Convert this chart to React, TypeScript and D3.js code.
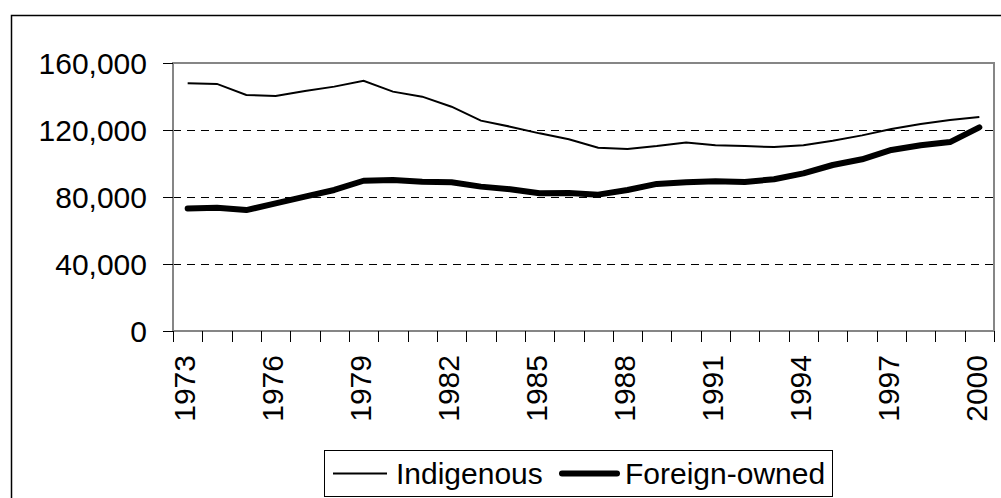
import React, { useRef, useEffect } from 'react';
import * as d3 from 'd3';

const years = d3.range(1973, 2001).map(String);

const indigenous = [
  147900, 147500, 140900, 140300, 143300, 145900, 149400, 142900, 139900, 133900,
  125600, 122000, 118000, 114500, 109400, 108700, 110400, 112600, 110900, 110400,
  109800, 110900, 113600, 116800, 120600, 123600, 126000, 127800,
];

const foreignOwned = [
  73200, 73600, 72200, 76200, 80200, 84200, 89700, 90100, 89100, 88800,
  86200, 84600, 82200, 82400, 81400, 84200, 87800, 88800, 89400, 89000,
  90600, 94100, 99100, 102500, 108100, 110900, 112800, 121600,
];

const yTicks = [0, 40000, 80000, 120000, 160000];
const xLabels = ['1973', '1976', '1979', '1982', '1985', '1988', '1991', '1994', '1997', '2000'];

const FONT = '"Liberation Sans", Arial, sans-serif';

const App = () => {
  const svgRef = useRef<SVGSVGElement>(null);

  useEffect(() => {
    const width = 1001;
    const height = 498;
    const plot = { left: 173, right: 994, top: 63, bottom: 331 };

    const svg = d3.select(svgRef.current)
      .attr('width', width)
      .attr('height', height);
    svg.selectAll('*').remove();

    svg.append('rect')
      .attr('width', width)
      .attr('height', height)
      .attr('fill', '#fff');

    // outer chart frame (runs off the right and bottom edges)
    svg.append('rect')
      .attr('x', 11.5)
      .attr('y', 15.5)
      .attr('width', 1100)
      .attr('height', 600)
      .attr('fill', 'none')
      .attr('stroke', '#000')
      .attr('stroke-width', 1.5);

    const x = d3.scaleBand()
      .domain(years)
      .range([plot.left, plot.right])
      .padding(0);

    const y = d3.scaleLinear()
      .domain([0, 160000])
      .range([plot.bottom, plot.top]);

    const cx = (d: string) => (x(d) as number) + x.bandwidth() / 2;

    // dashed gridlines
    svg.append('g')
      .selectAll('line')
      .data(yTicks.filter(t => t > 0 && t < 160000))
      .enter()
      .append('line')
      .attr('x1', plot.left)
      .attr('x2', plot.right)
      .attr('y1', d => y(d) + 0.5)
      .attr('y2', d => y(d) + 0.5)
      .attr('stroke', '#000')
      .attr('stroke-width', 1)
      .attr('stroke-dasharray', '8,6');

    // plot border
    svg.append('rect')
      .attr('x', plot.left)
      .attr('y', plot.top)
      .attr('width', plot.right - plot.left)
      .attr('height', plot.bottom - plot.top)
      .attr('fill', 'none')
      .attr('stroke', '#868686')
      .attr('stroke-width', 2);

    // y axis ticks + labels
    const yg = svg.append('g');
    yg.selectAll('line')
      .data(yTicks)
      .enter()
      .append('line')
      .attr('x1', plot.left - 10)
      .attr('x2', plot.left)
      .attr('y1', d => y(d) + 0.5)
      .attr('y2', d => y(d) + 0.5)
      .attr('stroke', '#000');
    yg.selectAll('text')
      .data(yTicks)
      .enter()
      .append('text')
      .attr('x', 147)
      .attr('y', d => y(d))
      .attr('dy', '0.36em')
      .attr('text-anchor', 'end')
      .style('font-family', FONT)
      .style('font-size', '30px')
      .text(d => d3.format(',')(d));

    // x axis ticks at category boundaries
    const bounds = years.map(d => x(d) as number).concat([plot.right]);
    svg.append('g')
      .selectAll('line')
      .data(bounds)
      .enter()
      .append('line')
      .attr('x1', d => Math.round(d) + 0.5)
      .attr('x2', d => Math.round(d) + 0.5)
      .attr('y1', plot.bottom)
      .attr('y2', plot.bottom + 11)
      .attr('stroke', '#000');

    svg.append('g')
      .selectAll('text')
      .data(xLabels)
      .enter()
      .append('text')
      .attr('transform', d => `translate(${cx(d) - 3},355) rotate(-90)`)
      .attr('dy', '0.36em')
      .attr('text-anchor', 'end')
      .style('font-family', FONT)
      .style('font-size', '30px')
      .text(d => d);

    const line = d3.line<number>()
      .x((_, i) => cx(years[i]))
      .y(d => y(d));

    svg.append('path')
      .datum(indigenous)
      .attr('d', line)
      .attr('fill', 'none')
      .attr('stroke', '#000')
      .attr('stroke-width', 2);

    svg.append('path')
      .datum(foreignOwned)
      .attr('d', line)
      .attr('fill', 'none')
      .attr('stroke', '#000')
      .attr('stroke-width', 6)
      .attr('stroke-linecap', 'round')
      .attr('stroke-linejoin', 'round');

    // legend
    const lg = svg.append('g');
    lg.append('rect')
      .attr('x', 324.5)
      .attr('y', 450.5)
      .attr('width', 508)
      .attr('height', 46)
      .attr('fill', '#fff')
      .attr('stroke', '#000');
    lg.append('line')
      .attr('x1', 333).attr('x2', 387)
      .attr('y1', 473.5).attr('y2', 473.5)
      .attr('stroke', '#000')
      .attr('stroke-width', 2);
    lg.append('text')
      .attr('x', 396)
      .attr('y', 473)
      .attr('dy', '0.36em')
      .style('font-family', FONT)
      .style('font-size', '30px')
      .text('Indigenous');
    lg.append('line')
      .attr('x1', 562).attr('x2', 617)
      .attr('y1', 473.5).attr('y2', 473.5)
      .attr('stroke', '#000')
      .attr('stroke-width', 6)
      .attr('stroke-linecap', 'round');
    lg.append('text')
      .attr('x', 625)
      .attr('y', 473)
      .attr('dy', '0.36em')
      .style('font-family', FONT)
      .style('font-size', '30px')
      .text('Foreign-owned');
  }, []);

  return (
    <div style={{ position: 'absolute', left: 0, top: 0 }}>
      <svg ref={svgRef} style={{ display: 'block' }}></svg>
    </div>
  );
};

export default App;
